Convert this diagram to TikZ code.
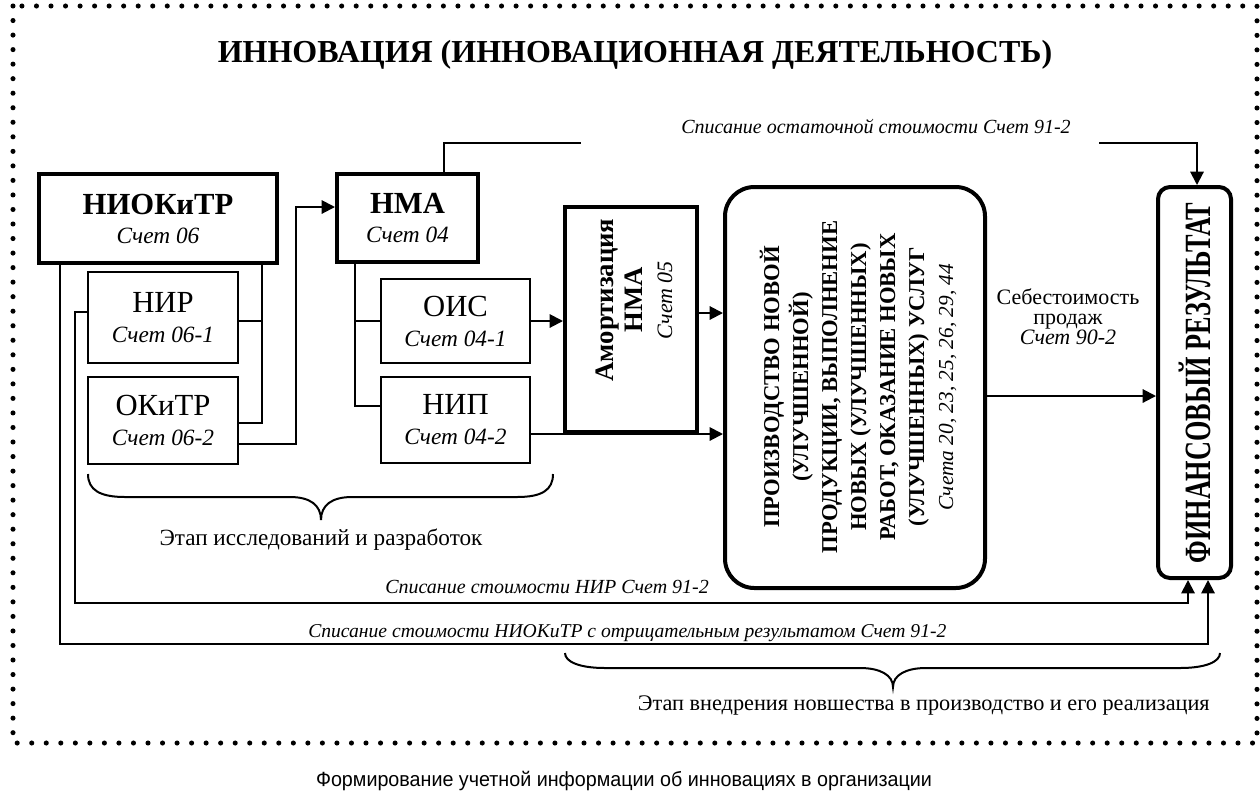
\documentclass[tikz,border=0pt]{standalone}
\usepackage{fontspec}
\setmainfont{Liberation Serif}
\newfontfamily\narrowsans[FakeStretch=0.96]{Liberation Sans}
\newfontfamily\condserif[FakeStretch=0.71]{Liberation Serif}
\usetikzlibrary{arrows.meta,calc}
\newcommand\myfs[2]{\fontsize{#1}{#2}\selectfont}
\tikzset{
  thickbox/.style={draw, line width=3pt, inner sep=0pt},
  thinbox/.style={draw, line width=1.5pt, inner sep=0pt, align=center, font=\myfs{17.5pt}{22.5pt}},
  conn/.style={line width=1.5pt},
  arr/.style={conn, -{Triangle[length=10pt,width=10pt]}},
  dotborder/.style={line width=3.8pt, line cap=round, dash pattern=on 0pt off 10.9pt},
  lbl/.style={inner sep=0pt, font=\myfs{15pt}{18pt}\itshape},
  txt/.style={inner sep=0pt, align=center}
}
\begin{document}
\begin{tikzpicture}[x=0.75pt,y=-0.75pt]
\useasboundingbox (0,0) rectangle (1260,794);
% border
\draw[dotborder] (13,6) rectangle (1257,743);
% title
\node[txt, font=\myfs{24pt}{28pt}\bfseries] (title) at (635,55) {ИННОВАЦИЯ (ИННОВАЦИОННАЯ ДЕЯТЕЛЬНОСТЬ)};
% boxes
\node[thickbox, minimum width=178.5pt, minimum height=66.75pt, align=center, font=\myfs{17.5pt}{21.75pt}] (niokitr) at (158,218.5)
  {{\myfs{23pt}{21.75pt}\bfseries НИОКиТР}\\{\itshape Счет 06}};
\node[thickbox, minimum width=105.75pt, minimum height=66pt, align=center, font=\myfs{17.5pt}{21.75pt}] (nma) at (407.5,218)
  {{\myfs{23pt}{21.75pt}\bfseries НМА}\\{\itshape Счет 04}};
\node[thinbox, minimum width=112.5pt, minimum height=68.25pt] (nir) at (163,317.5)
  {{\myfs{23pt}{22.5pt}НИР}\\{\itshape Счет 06-1}};
\node[thinbox, minimum width=112.5pt, minimum height=65.25pt] (okitr) at (163,420.5)
  {{\myfs{23pt}{22.5pt}ОКиТР}\\{\itshape Счет 06-2}};
\node[thinbox, minimum width=111.75pt, minimum height=63pt] (ois) at (455.5,321)
  {{\myfs{23pt}{22.5pt}ОИС}\\{\itshape Счет 04-1}};
\node[thinbox, minimum width=111.75pt, minimum height=64.5pt] (nip) at (455.5,420)
  {{\myfs{23pt}{22.5pt}НИП}\\{\itshape Счет 04-2}};
\node[thickbox, minimum width=99pt, minimum height=168.75pt] (amort) at (631,319.5) {};
\node[txt, rotate=90, font=\myfs{20pt}{22pt}\bfseries] (amortt) at (634,300)
  {Амортизация\\НМА\\{\mdseries\itshape\myfs{16.5pt}{22pt}Счет 05}};
\node[thickbox, rounded corners=22pt, minimum width=195pt, minimum height=300.75pt] (prod) at (855,387.5) {};
\node[txt, rotate=90, font=\myfs{17pt}{21.75pt}\bfseries] (prodt) at (858,387)
  {ПРОИЗВОДСТВО НОВОЙ\\(УЛУЧШЕННОЙ)\\ПРОДУКЦИИ, ВЫПОЛНЕНИЕ\\НОВЫХ (УЛУЧШЕННЫХ)\\РАБОТ, ОКАЗАНИЕ НОВЫХ\\(УЛУЧШЕННЫХ) УСЛУГ\\{\mdseries\itshape\myfs{16pt}{21.75pt}Счета 20, 23, 25, 26, 29, 44}};
\node[thickbox, rounded corners=9pt, minimum width=54.75pt, minimum height=293.25pt] (fin) at (1194.5,382.5) {};
\node[txt, rotate=90, font=\condserif\myfs{27.75pt}{30pt}\bfseries] (fint) at (1195,383) {ФИНАНСОВЫЙ РЕЗУЛЬТАТ};
% connectors
\coordinate (c1) at (60,644);
\coordinate (c2) at (75,603);
\coordinate (c3) at (262,0);
\coordinate (c4) at (355,0);
\coordinate (g1) at (581,143);
\coordinate (g2) at (1099,143);
\draw[arr] (niokitr.south -| c1) -- (c1) -| ($(fin.south)+(13.5,0)$);
\draw[arr] ($(nir.west)+(0,-5.5)$) -| (c2) -| ($(fin.south)+(-6.5,0)$);
\draw[conn] (niokitr.south -| c3) |- ($(okitr.east)+(0,2.5)$);
\draw[conn] ($(nir.east)+(0,3.5)$) -- ($(nir.east -| c3)+(0,3.5)$);
\draw[arr] ($(okitr.east)+(0,23.5)$) -| ($(nma.west)+(-39,-11)$) -- ($(nma.west)+(0,-11)$);
\draw[conn] (nma.south -| c4) |- ($(nip.west)+(0,-14)$);
\draw[conn] (ois.west) -- (ois.west -| c4);
\draw[arr] (ois.east) -- (ois.east -| amort.west);
\draw[arr] ($(amort.east)+(0,-6.5)$) -- ($(amort.east -| prod.west)+(0,-6.5)$);
\draw[arr] ($(nip.east)+(0,14)$) -- ($(nip.east -| prod.west)+(0,14)$);
\draw[arr] ($(prod.east)+(0,8.5)$) -- ($(prod.east -| fin.west)+(0,8.5)$);
\draw[conn] ($(nma.north)+(36.5,0)$) |- (g1);
\draw[arr] (g2) -| ($(fin.north)+(2.5,0)$);
% labels
\node[lbl] (l1) at (876,126) {Списание остаточной стоимости Счет 91-2};
\node[lbl, anchor=west] (l2) at (385,587) {Списание стоимости НИР Счет 91-2};
\node[lbl, anchor=west, font=\myfs{14.7pt}{18pt}\itshape] (l3) at (308,633) {Списание стоимости НИОКиТР с отрицательным результатом Счет 91-2};
\node[txt, font=\myfs{16.5pt}{15pt}] (sebest) at (1068,317) {Себестоимость\\продаж\\{\itshape Счет 90-2}};
% braces
\draw[conn] (88,474) .. controls (88,490) and (100,497) .. (125,497) -- (290,497)
  .. controls (310,497) and (321,505) .. (321,520)
  .. controls (321,505) and (332,497) .. (352,497) -- (517,497)
  .. controls (542,497) and (553,490) .. (553,474);
\draw[conn] (565,653) .. controls (565,662) and (580,668) .. (605,668) -- (860,668)
  .. controls (880,668) and (893,675) .. (893,687)
  .. controls (893,675) and (906,668) .. (926,668) -- (1180,668)
  .. controls (1205,668) and (1220,662) .. (1220,653);
\node[txt, font=\myfs{17.4pt}{20pt}] (st1) at (321,540) {Этап исследований и разработок};
\node[txt, anchor=east, font=\myfs{16.7pt}{20pt}] (st2) at (1210,705) {Этап внедрения новшества в производство и его реализация};
% caption
\node[txt, font=\narrowsans\myfs{15.4pt}{18pt}] (cap) at (624,781) {Формирование учетной информации об инновациях в организации};
\end{tikzpicture}
\end{document}
